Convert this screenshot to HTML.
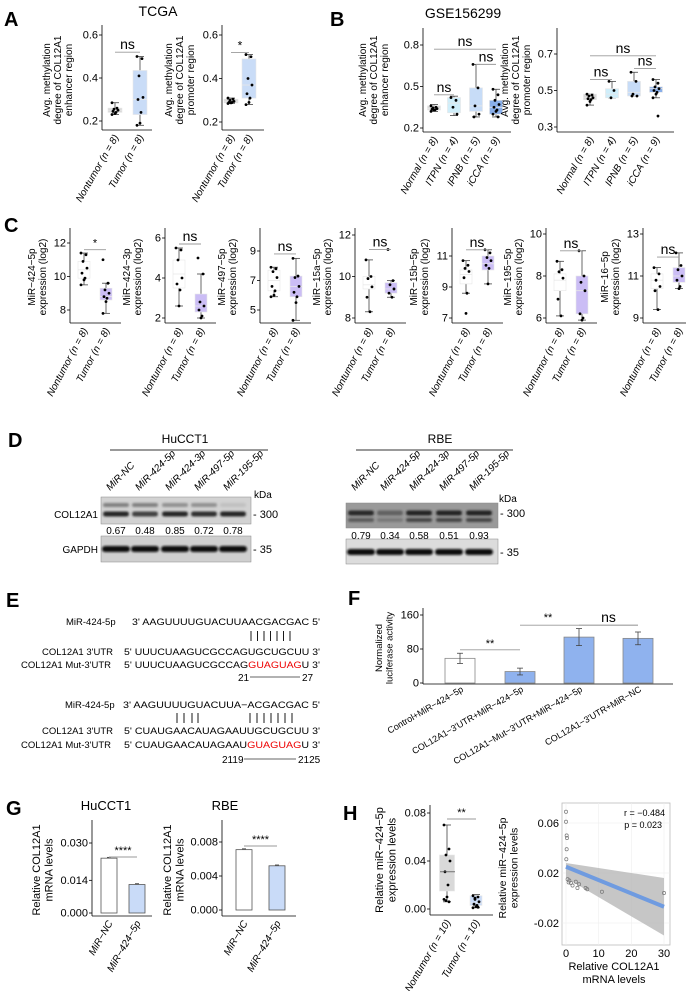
<!DOCTYPE html>
<html><head><meta charset="utf-8"><style>
html,body{margin:0;padding:0;background:#fff}
svg{display:block;font-family:"Liberation Sans Narrow","Liberation Sans",sans-serif}
</style></head><body>
<svg id="fig" width="686" height="991" viewBox="0 0 686 991" xmlns="http://www.w3.org/2000/svg">
<defs><filter id="bl" x="-20%" y="-50%" width="140%" height="200%"><feGaussianBlur stdDeviation="1.1"/></filter></defs>
</svg>
<script>
// ---------- DATA ----------
// box stats: [whiskerLo, q1, median, q3, whiskerHi]
const a1Stats=[[0.23,0.24,0.25,0.26,0.285],[0.18,0.23,0.30,0.435,0.50]];
const a1Pts=[[0.285,0.26,0.255,0.25,0.245,0.24,0.235,0.23],[0.50,0.49,0.41,0.31,0.30,0.24,0.19,0.18]];
const a2Stats=[[0.285,0.288,0.295,0.305,0.31],[0.28,0.31,0.37,0.49,0.51]];
const a2Pts=[[0.31,0.305,0.30,0.295,0.29,0.29,0.288,0.285],[0.51,0.50,0.40,0.37,0.33,0.31,0.29,0.28]];
const b1Stats=[[0.32,0.33,0.34,0.36,0.37],[0.29,0.31,0.38,0.42,0.43],[0.28,0.32,0.36,0.49,0.66],[0.28,0.30,0.35,0.40,0.48]];
const b1Pts=[[0.36,0.35,0.345,0.34,0.335,0.33,0.33,0.32],[0.42,0.40,0.35,0.30],[0.66,0.49,0.36,0.30,0.28],[0.48,0.44,0.40,0.37,0.35,0.33,0.32,0.30,0.28]];
const b2Stats=[[0.42,0.45,0.46,0.48,0.48],[0.46,0.46,0.48,0.51,0.55],[0.47,0.47,0.49,0.55,0.60],[0.46,0.49,0.51,0.52,0.56]];
const b2Pts=[[0.48,0.475,0.47,0.46,0.455,0.45,0.44,0.42],[0.55,0.50,0.46],[0.60,0.55,0.48,0.47,0.47],[0.56,0.54,0.52,0.51,0.50,0.49,0.48,0.46,0.36]];
const cNames=["MiR−424−5p","MiR−424−3p","MiR−497−5p","MiR−15a−5p","MiR−15b−5p","MiR−195−5p","MiR−16−5p"];
const cTicks=[[8,10,12],[2,4,6],[5,7,9],[8,10,12],[7,9,11],[6,8,10],[9,11,13]];
const cSig=["*","ns","ns","ns","ns","ns","ns"];
const cBracket=[11.6,5.7,8.8,11.3,11.4,9.2,11.9];
const cNT=[[9.5,9.9,10.4,10.9,11.4],[2.6,3.5,4.2,4.9,5.5],[5.9,6.3,7.0,7.7,7.9],[8.3,9.4,9.6,10.0,10.8],[8.6,9.2,9.8,10.1,10.7],[6.1,7.3,7.8,8.1,8.7],[9.4,10.4,10.8,11.1,11.4]];
const cT=[[7.8,8.6,8.8,9.3,9.6],[2.0,2.3,2.6,3.2,4.2],[4.3,5.9,6.6,7.3,8.5],[9.0,9.2,9.4,9.7,9.8],[9.2,10.1,10.5,11.0,11.4],[5.9,6.2,7.3,8.0,9.2],[10.4,10.7,11.0,11.4,12.1]];
const cNTPts=[[11.4,11.3,10.9,10.5,10.2,9.9,9.8,9.5],[5.5,5.4,4.9,4.0,3.7,3.4,2.6],[7.9,7.8,7.6,7.2,6.6,6.3,6.0,5.9],[10.8,10.0,9.9,9.5,9.0,8.3],[10.7,10.4,10.2,10.0,9.6,8.6,7.3],[8.7,8.3,8.2,7.9,6.9,6.1],[11.4,11.1,10.8,10.5,10.3,9.4]];
const cTPts=[[11.0,9.6,9.2,9.0,8.8,8.7,8.5,7.8],[5.0,4.2,2.8,2.6,2.4,2.1,2.0],[8.5,7.3,7.2,6.6,6.2,5.9,5.5,4.3],[11.3,9.8,9.6,9.4,9.2,9.0],[11.4,11.2,10.9,10.7,10.4,10.2,9.2],[9.2,8.0,7.7,7.3,6.2,6.0,5.9],[12.1,11.5,11.3,11.0,10.8,10.5,10.4]];
const dLanes=["MiR-NC","MiR-424-5p","MiR-424-3p","MiR-497-5p","MiR-195-5p"];
const dHuRatio=["0.67","0.48","0.85","0.72","0.78"];
const dRbeRatio=["0.79","0.34","0.58","0.51","0.93"];
const fCats=["Control+MiR−424−5p","COL12A1−3'UTR+MiR−424−5p","COL12A1−Mut−3'UTR+MiR−424−5p","COL12A1−3'UTR+MiR−NC"];
const fVals=[58,27,108,105];
const fErr=[12,8,20,15];
const fTicks=[0,80,160];
const gCats=["MiR−NC","MiR−424−5p"];
const g1Vals=[0.0235,0.0122];
const g1Ticks=[0.000,0.014,0.030];
const g2Vals=[0.0071,0.0052];
const g2Ticks=[0.000,0.004,0.008];
const h1Stats=[[0.006,0.015,0.031,0.045,0.070],[0.001,0.003,0.005,0.011,0.012]];
const h1Pts=[[0.070,0.050,0.045,0.040,0.031,0.020,0.010,0.008,0.006,0.007],[0.011,0.010,0.008,0.006,0.004,0.003,0.002,0.001,0.0015,0.009]];
const h2X=[0,0,0.2,0.3,0.2,0.1,0.5,1,1.5,2,3,3.5,4,6,6.5,11,30,0.8];
const h2Y=[0.069,0.061,0.050,0.048,0.039,0.031,0.015,0.014,0.012,0.010,0.013,0.008,0.011,0.008,0.007,0.005,0.004,0.0125];
const h2Fit=[0.025,-0.007];      // fitted value at x=0 and x=30
const h2BandLo=[0.016,-0.030];
const h2BandHi=[0.028,0.016];
const h2XTicks=[0,10,20,30];
const h2YTicks=[-0.02,0.02,0.06];

// ---------- HELPERS ----------
const NS='http://www.w3.org/2000/svg';
const svg=document.getElementById('fig');
function mk(tag,attrs,name,parent){
  const el=document.createElementNS(NS,tag);
  for(const k in attrs) el.setAttribute(k,attrs[k]);
  
  
  (parent||svg).appendChild(el);return el;
}
function T(x,y,s,size,name,extra,parent){
  const a={x:x,y:y,'font-size':size,fill:'#000'};
  if(extra) for(const k in extra) a[k]=extra[k];
  const el=mk('text',a,name,parent);el.textContent=s;return el;
}
function L(x1,y1,x2,y2,name,col,w){return mk('line',{x1:x1,y1:y1,x2:x2,y2:y2,stroke:col||'#000','stroke-width':w||0.8},name);}
function lin(v1,p1,v2,p2){return v=>p1+(v-v1)*(p2-p1)/(v2-v1);}
function ytitle(x,yc,lines,size,name,gap){
  const g=gap||(size+1.5);
  lines.forEach((s,i)=>T(x+i*g,yc,s,size,name+'-line'+(i+1),{'text-anchor':'middle',transform:`rotate(-90 ${x+i*g} ${yc})`}));
}
function xlab(x,y,s,size,name,ang,italicN){
  const el=T(x,y,'',size,name,{'text-anchor':'end',transform:`rotate(${ang} ${x} ${y})`});
  if(italicN){
    const m=s.match(/^(.*\()n( = \d+\))$/);
    const t1=document.createElementNS(NS,'tspan');t1.textContent=m[1];el.appendChild(t1);
    const t2=document.createElementNS(NS,'tspan');t2.setAttribute('font-style','italic');t2.textContent='n';el.appendChild(t2);
    const t3=document.createElementNS(NS,'tspan');t3.textContent=m[2];el.appendChild(t3);
  } else el.textContent=s;
  el.setAttribute('font-style','italic');
  return el;
}
const jit=[-3,2,-1,3,-2,1,0,-3,2,-1];
function axes(ax,top,bottom,right,ticks,ys,name,size,fmt){
  L(ax,top,ax,bottom,name+'-y-axis');
  L(ax,bottom,right,bottom,name+'-x-axis');
  ticks.forEach(t=>{const y=ys(t);L(ax-3,y,ax,y,name+'-y-tick');
    T(ax-4,y+3.5,fmt?fmt(t):String(t),size,name+'-y-tick-label',{'text-anchor':'end'});});
}
function box(cx,st,pts,ys,fill,name,w){
  w=w||14;
  L(cx,ys(st[0]),cx,ys(st[4]),name+'-whisker','#444');
  L(cx-4,ys(st[0]),cx+4,ys(st[0]),name+'-whisker-cap','#444');
  L(cx-4,ys(st[4]),cx+4,ys(st[4]),name+'-whisker-cap','#444');
  mk('rect',{x:cx-w/2,y:ys(st[3]),width:w,height:Math.max(1,ys(st[1])-ys(st[3])),fill:fill,stroke:'#e6e6e6','stroke-width':0.6},name+'-box');
  L(cx-w/2,ys(st[2]),cx+w/2,ys(st[2]),name+'-median','#e8e8e8',0.8);
  pts.forEach((p,i)=>mk('circle',{cx:cx+jit[i%jit.length],cy:ys(p),r:1.4,fill:'#000'},name+'-point'));
}
function bracket(x1,x2,y,label,size,name,col){
  L(x1,y,x2,y,name+'-bracket',col||'#999',0.9);
  T((x1+x2)/2,y-3,label,size,name+'-sig',{'text-anchor':'middle'});
}

// ---------- PANEL LETTERS ----------
[['A',4,26],['B',330,26],['C',4,232],['D',8,447],['E',6,607],['F',348,605],['G',6,815],['H',343,820]].forEach(a=>
  T(a[1],a[2],a[0],20,'panel-label-'+a[0].toLowerCase(),{'font-weight':'bold','font-family':'Liberation Sans, sans-serif'}));

// ---------- PANEL A ----------
T(158,16,'TCGA',14,'panel-a-title',{'text-anchor':'middle','font-family':'Liberation Sans, sans-serif'});
(function(){
  let ys=lin(0.2,121,0.6,35);
  axes(102,25,130,152,[0.2,0.4,0.6],ys,'a1',11,v=>v.toFixed(1));
  box(115,a1Stats[0],a1Pts[0],ys,'#d9d9d9','a1-nontumor');
  box(140,a1Stats[1],a1Pts[1],ys,'#c9dcf7','a1-tumor');
  bracket(115,140,ys(0.52),'ns',14,'a1');
  ytitle(50,80,['Avg. methylation','degree of COL12A1','enhancer region'],10,'a1-y-title',11);
  xlab(119,137,'Nontumor (n = 8)',10,'a1-x-label-nontumor',-60,true);
  xlab(144,137,'Tumor (n = 8)',10,'a1-x-label-tumor',-60,true);
  ys=lin(0.2,122,0.6,35);
  axes(222,25,130,264,[0.2,0.4,0.6],ys,'a2',11,v=>v.toFixed(1));
  box(231,a2Stats[0],a2Pts[0],ys,'#d9d9d9','a2-nontumor');
  box(249,a2Stats[1],a2Pts[1],ys,'#c9dcf7','a2-tumor');
  bracket(231,249,ys(0.52),'*',12,'a2');
  ytitle(172,80,['Avg. methylation','degree of COL12A1','promoter region'],10,'a2-y-title',11);
  xlab(235,137,'Nontumor (n = 8)',10,'a2-x-label-nontumor',-60,true);
  xlab(253,137,'Tumor (n = 8)',10,'a2-x-label-tumor',-60,true);
})();

// ---------- PANEL B ----------
T(463,18,'GSE156299',14,'panel-b-title',{'text-anchor':'middle','font-family':'Liberation Sans, sans-serif'});
(function(){
  const cats=['Normal (n = 8)','ITPN (n = 4)','IPNB (n = 5)','iCCA (n = 9)'];
  const fills=['#d9d9d9','#cfeefa','#c7dcf7','#88aee9'];
  let ys=lin(0.2,128,0.8,45);
  axes(423,28,132,511,[0.2,0.5,0.8],ys,'b1',11,v=>v.toFixed(1));
  const cx1=[434,454,476,496];
  cx1.forEach((x,i)=>{box(x,b1Stats[i],b1Pts[i],ys,fills[i],'b1-group'+(i+1),13);
    xlab(x+4,139,cats[i],10,'b1-x-label',-60,true);});
  bracket(434,496,ys(0.77),'ns',14,'b1-overall');
  bracket(434,454,ys(0.44),'ns',14,'b1-normal-itpn');
  bracket(476,496,ys(0.66),'ns',14,'b1-ipnb-icca');
  ytitle(366,80,['Avg. methylation','degree of COL12A1','enhancer region'],10,'b1-y-title',11);
  ys=lin(0.3,127,0.7,54);
  axes(557,28,132,674,[0.3,0.5,0.7],ys,'b2',11,v=>v.toFixed(1));
  const cx2=[590,612,634,656];
  cx2.forEach((x,i)=>{box(x,b2Stats[i],b2Pts[i],ys,fills[i],'b2-group'+(i+1),13);
    xlab(x+4,139,cats[i],10,'b2-x-label',-60,true);});
  bracket(590,656,ys(0.69),'ns',14,'b2-overall');
  bracket(590,612,ys(0.56),'ns',14,'b2-normal-itpn');
  bracket(634,656,ys(0.62),'ns',14,'b2-ipnb-icca');
  ytitle(508,80,['Avg. methylation','degree of COL12A1','promoter region'],10,'b2-y-title',11);
})();

// ---------- PANEL C ----------
(function(){
  const axX=[70,165,260,355,452,546,643];
  const tickY=[[310,276,243],[318,278,238],[310,280,251],[318,276,235],[318,287,256],[318,277,234],[318,277,234]];
  cNames.forEach((nm,i)=>{
    const ax=axX[i];const ys=lin(cTicks[i][0],tickY[i][0],cTicks[i][2],tickY[i][2]);
    const p='c'+(i+1);
    axes(ax,228,323,ax+51,cTicks[i],ys,p,11);
    box(ax+14,cNT[i],cNTPts[i],ys,'#ffffff',p+'-nontumor',12);
    box(ax+36,cT[i],cTPts[i],ys,'#cbbdf5',p+'-tumor',12);
    bracket(ax+14,ax+36,ys(cBracket[i]),cSig[i],cSig[i]=='*'?11:14,p);
    ytitle(ax-35,277,[nm,'expression (log2)'],10,p+'-y-title',11);
    xlab(ax+18,330,'Nontumor (n = 8)',10,p+'-x-label-nontumor',-62,true);
    xlab(ax+40,330,'Tumor (n = 8)',10,p+'-x-label-tumor',-62,true);
  });
})();

// ---------- PANEL D ----------
(function(){
  function blot(cfg){
    T(cfg.tx,443,cfg.title,12,cfg.n+'-title',{'text-anchor':'middle'});
    L(cfg.lx1,450,cfg.lx2,450,cfg.n+'-title-underline','#333',1);
    dLanes.forEach((s,i)=>{const x=cfg.lanes[i];
      T(x-6,491,s,10,cfg.n+'-lane-label',{'font-style':'italic',transform:`rotate(-45 ${x-6} 491)`});});
    T(cfg.kx,cfg.ky,'kDa',10,cfg.n+'-kda-label');
    mk('rect',{x:cfg.bx,y:cfg.b1y,width:cfg.bw,height:cfg.b1h,fill:cfg.bg1,stroke:'#888','stroke-width':0.5},cfg.n+'-col12a1-blot');
    mk('rect',{x:cfg.bx,y:cfg.b2y,width:cfg.bw,height:cfg.b2h,fill:cfg.bg2,stroke:'#888','stroke-width':0.5},cfg.n+'-gapdh-blot');
    cfg.lanes.forEach((x,i)=>{
      mk('rect',{x:x-13,y:cfg.band1-2.5,width:26,height:5,rx:2.5,fill:'#1a1a1a',opacity:cfg.int[i],filter:'url(#bl)'},cfg.n+'-col12a1-band');
      mk('rect',{x:x-13,y:cfg.band1b-2,width:26,height:4,rx:2,fill:'#333',opacity:cfg.int2[i],filter:'url(#bl)'},cfg.n+'-col12a1-upper-band');
      mk('rect',{x:x-14,y:cfg.band2-3,width:28,height:6,rx:3,fill:'#111',filter:'url(#bl)'},cfg.n+'-gapdh-band');
      T(x,cfg.ry,cfg.ratios[i],10,cfg.n+'-ratio',{'text-anchor':'middle'});
    });
    T(cfg.bx+cfg.bw+2,cfg.band1+4,'- 300',11,cfg.n+'-marker-300');
    T(cfg.bx+cfg.bw+2,cfg.band2+4,'- 35',11,cfg.n+'-marker-35');
    if(cfg.labels){T(cfg.bx-3,cfg.band1+4,'COL12A1',10,cfg.n+'-col12a1-label',{'text-anchor':'end'});
      T(cfg.bx-3,cfg.band2+4,'GAPDH',10,cfg.n+'-gapdh-label',{'text-anchor':'end'});}
  }
  blot({n:'d-hucct1',title:'HuCCT1',tx:185,lx1:110,lx2:268,lanes:[116,145,175,204,233],kx:254,ky:498,
    bx:101,bw:150,b1y:497,b1h:27,b2y:536,b2h:26,bg1:'#d2d2d2',bg2:'#cfcfcf',band1:514,band1b:505,band2:549,
    int:[0.95,0.8,0.95,0.9,0.95],int2:[0.5,0.5,0.4,0.4,0.1],ry:534,ratios:dHuRatio,labels:true});
  blot({n:'d-rbe',title:'RBE',tx:440,lx1:356,lx2:513,lanes:[361,390,419,449,479],kx:499,ky:502,
    bx:346,bw:152,b1y:503,b1h:25,b2y:539,b2h:25,bg1:'#9a9a9a',bg2:'#dcdcdc',band1:513,band1b:520,band2:552,
    int:[0.9,0.45,0.95,0.95,0.95],int2:[0.6,0.3,0.8,0.8,0.8],ry:539,ratios:dRbeRatio,labels:false});
})();

// ---------- PANEL E ----------
(function(){
  const f=9.5;
  function row(lx,y,label,seqParts,sx,len,name){
    T(lx,y,label,f,name+'-label');
    const el=T(sx,y,'',f,name+'-sequence',{textLength:len,lengthAdjust:'spacingAndGlyphs'});
    seqParts.forEach(p=>{const t=document.createElementNS(NS,'tspan');if(p[1])t.setAttribute('fill',p[1]);t.textContent=p[0];el.appendChild(t);});
  }
  row(66,625,'MiR-424-5p',[["3' AAGUUUUGUACUUAACGACGAC  5'"]],132,188,'e-site1-mir');
  for(let i=0;i<7;i++) L(251+i*6.5,631,251+i*6.5,641,'e-site1-pair-line','#000',0.9);
  row(42,655,"COL12A1  3'UTR",[["5' UUUCUAAGUCGCCAGUGCUGCUU  3'"]],124,196,'e-site1-wt');
  row(21,668,"COL12A1  Mut-3'UTR",[["5' UUUCUAAGUCGCCAG"],["GUAGUAG","#e00"],["U  3'"]],124,196,'e-site1-mut');
  T(238,681,'21',10,'e-site1-start');L(250,677,300,677,'e-site1-range','#333',0.8);T(302,681,'27',10,'e-site1-end');
  row(65,708,'MiR-424-5p',[["3'  AAGUUUUGUACUUA−ACGACGAC  5'"]],123,197,'e-site2-mir');
  [177,184,192,198].forEach(x=>L(x,713,x,723,'e-site2-pair-line','#000',0.9));
  for(let i=0;i<7;i++) L(250+i*7,713,250+i*7,723,'e-site2-pair-line','#000',0.9);
  row(42,734,"COL12A1  3'UTR",[["5' CUAUGAACAUAGAAUUGCUGCUU  3'"]],124,196,'e-site2-wt');
  row(21,748,"COL12A1  Mut-3'UTR",[["5' CUAUGAACAUAGAAU"],["GUAGUAG","#e00"],["U  3'"]],124,196,'e-site2-mut');
  T(222,763,'2119',10,'e-site2-start');L(244,759,296,759,'e-site2-range','#333',0.8);T(298,763,'2125',10,'e-site2-end');
})();

// ---------- PANEL F ----------
(function(){
  const ys=lin(0,683,160,615);
  axes(423,608,684,673,fTicks,ys,'f',11);
  const cx=[460,520,579,638];
  const fills=['#ffffff','#8fb2ee','#8fb2ee','#8fb2ee'];
  fVals.forEach((v,i)=>{
    mk('rect',{x:cx[i]-15,y:ys(v),width:30,height:ys(0)-ys(v),fill:fills[i],stroke:'#888','stroke-width':0.8},'f-bar-'+(i+1));
    L(cx[i],ys(v-fErr[i]),cx[i],ys(v+fErr[i]),'f-error-bar','#444');
    L(cx[i]-3,ys(v-fErr[i]),cx[i]+3,ys(v-fErr[i]),'f-error-cap','#444');
    L(cx[i]-3,ys(v+fErr[i]),cx[i]+3,ys(v+fErr[i]),'f-error-cap','#444');
    xlab(cx[i]+4,691,fCats[i],9,'f-x-label',-30,false).setAttribute('font-style','normal');
  });
  bracket(460,520,ys(78),'**',11,'f-control-vs-wt');
  bracket(520,638,ys(136),'',11,'f-wt-vs-nc');
  T(548,ys(136)-4,'**',11,'f-wt-vs-mut-sig',{'text-anchor':'middle'});
  bracket(579,638,ys(136),'ns',14,'f-mut-vs-nc');
  ytitle(382,648,['Normalized','luciferase activity'],9.5,'f-y-title',10.5);
})();

// ---------- PANEL G ----------
(function(){
  function gp(n,title,tx,ax,right,vals,ticks,tickY,cx,brY,decimals,yl){
    T(tx,810,title,13,n+'-title',{'text-anchor':'middle'});
    const ys=lin(ticks[0],tickY[0],ticks[2],tickY[2]);
    axes(ax,820,916,right,ticks,ys,n,11,v=>v.toFixed(decimals));
    vals.forEach((v,i)=>{
      mk('rect',{x:cx[i]-8,y:ys(v),width:16,height:ys(0)-ys(v),fill:i?'#c9dbf8':'#fff',stroke:'#555','stroke-width':0.8},n+'-bar-'+(i+1));
      L(cx[i]-2,ys(v)-0.8,cx[i]+2,ys(v)-0.8,n+'-error-cap','#333');
      xlab(cx[i]+4,923,gCats[i],10,n+'-x-label',-60,false);
    });
    bracket(cx[0],cx[1],brY,'****',11,n);
    ytitle(yl,870,['Relative COL12A1','mRNA levels'],11,n+'-y-title');
  }
  gp('g1','HuCCT1',106,92,152,g1Vals,g1Ticks,[913,881,843],[109,137],857,3,40);
  gp('g2','RBE',225,222,296,g2Vals,g2Ticks,[910,877,842],[244,277],846,3,171);
})();

// ---------- PANEL H ----------
(function(){
  const ys=lin(0,909,0.08,813);
  axes(430,805,915,493,[0,0.04,0.08],ys,'h1',11,v=>v.toFixed(2));
  box(447,h1Stats[0],h1Pts[0],ys,'#d9d9d9','h1-nontumor',15);
  L(440,ys(h1Stats[0][2]),455,ys(h1Stats[0][2]),'h1-nontumor-median-line','#555',0.8);
  box(476,h1Stats[1],h1Pts[1],ys,'#c9dbf8','h1-tumor',12);
  bracket(447,476,ys(0.075),'**',11,'h1');
  ytitle(383,860,['Relative miR−424−5p','expression levels'],11,'h1-y-title');
  xlab(451,922,'Nontumor (n = 10)',10,'h1-x-label-nontumor',-60,true);
  xlab(480,922,'Tumor (n = 10)',10,'h1-x-label-tumor',-60,true);

  const xs=lin(0,566,30,664), yv=lin(0.02,873,0.06,823);
  mk('rect',{x:562,y:803,width:108,height:142,fill:'#fff',stroke:'#bbb','stroke-width':0.8},'h2-panel-border');
  h2XTicks.forEach(t=>{L(xs(t),803,xs(t),945,'h2-grid-x','#eee',0.6);
    T(xs(t),957,String(t),11,'h2-x-tick-label',{'text-anchor':'middle'});});
  h2YTicks.forEach(t=>{L(562,yv(t),670,yv(t),'h2-grid-y','#eee',0.6);
    T(559,yv(t)+4,t.toFixed(2),11,'h2-y-tick-label',{'text-anchor':'end'});});
  mk('polygon',{points:`${xs(0)},${yv(h2BandHi[0])} ${xs(30)},${yv(h2BandHi[1])} ${xs(30)},${yv(h2BandLo[1])} ${xs(0)},${yv(h2BandLo[0])}`,fill:'#b3b3b3',opacity:0.75},'h2-confidence-band');
  L(xs(0),yv(h2Fit[0]),xs(30),yv(h2Fit[1]),'h2-regression-line','#6f9be0',4);
  h2X.forEach((x,i)=>mk('circle',{cx:xs(x),cy:yv(h2Y[i]),r:1.6,fill:'none',stroke:'#777','stroke-width':0.7},'h2-point'));
  T(665,816,'r = −0.484',9,'h2-r-value',{'text-anchor':'end'});
  T(662,828,'p = 0.023',9,'h2-p-value',{'text-anchor':'end'});
  T(614,970,'Relative COL12A1',11,'h2-x-title-line1',{'text-anchor':'middle'});
  T(614,983,'mRNA levels',11,'h2-x-title-line2',{'text-anchor':'middle'});
  ytitle(506,868,['Relative miR−424−5p','expression levels'],10.5,'h2-y-title',11.5);
})();
</script>
</body></html>
